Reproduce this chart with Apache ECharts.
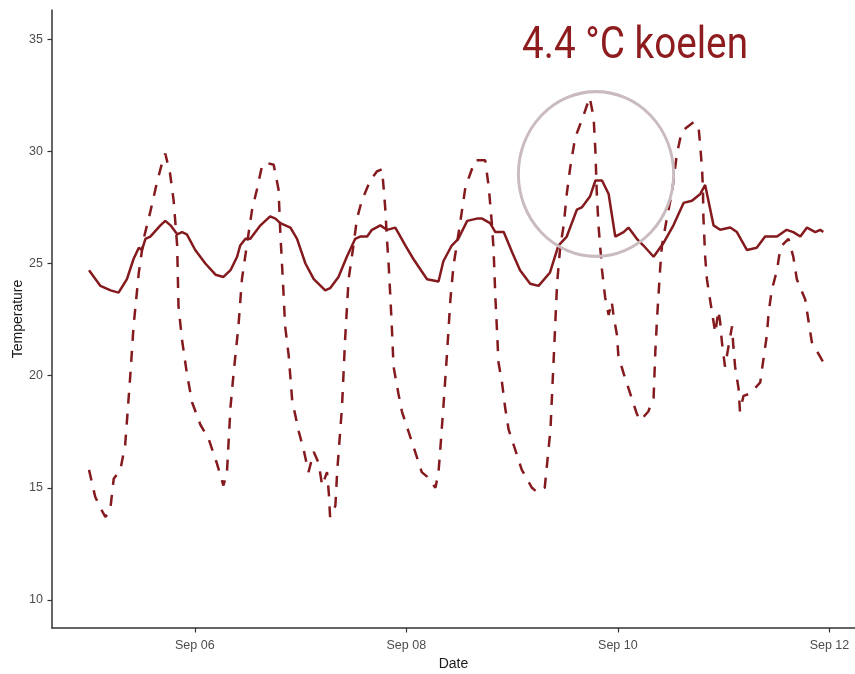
<!DOCTYPE html>
<html>
<head>
<meta charset="utf-8">
<title>Temperature</title>
<script src="https://cdn.jsdelivr.net/npm/echarts@6/dist/echarts.min.js"></script>
<style>
  html, body { margin: 0; padding: 0; background: #ffffff; }
  #chart { width: 855px; height: 674px; }
</style>
</head>
<body>
<div id="chart"></div>
<script>
// Hours since Sep 05 00:00 and indoor temperature (solid line)
const indoorHours = [
  0, 2.6, 4.9, 6.7, 8.6, 10.1, 11.3, 12.0, 12.8, 13.9,
  16.2, 17.3, 18.5, 20.0, 21.1, 22.2, 24.1, 26.4, 28.7, 30.5,
  32.1, 33.6, 34.3, 35.5, 36.6, 38.9, 41.1, 42.3, 43.4, 45.7,
  47.2, 49.1, 51.0, 53.6, 54.7, 56.6, 58.5, 60.4, 61.5, 63.1,
  64.2, 66.1, 67.6, 69.5, 71.8, 73.6, 76.7, 79.3, 80.4, 82.3,
  83.8, 85.8, 88.0, 89.2, 91.0, 92.2, 94.1, 96.0, 97.8, 100.1,
  102.0, 104.6, 106.5, 108.4, 110.7, 111.8, 113.7, 114.9, 116.4, 117.9,
  119.4, 121.3, 122.4, 124.3, 125.8, 128.1, 130.3, 132.6, 134.9, 136.8,
  138.7, 139.8, 141.7, 143.2, 145.5, 147.0, 149.3, 151.5, 153.4, 156.1,
  158.3, 159.8, 161.4, 162.9, 164.8, 165.9, 166.6
];
const indoorTemp = [
  24.7, 24.0, 23.8, 23.7, 24.3, 25.2, 25.7, 25.6, 26.1, 26.2,
  26.7, 26.9, 26.7, 26.3, 26.4, 26.3, 25.6, 25.0, 24.5, 24.4,
  24.7, 25.3, 25.8, 26.1, 26.1, 26.7, 27.1, 27.0, 26.8, 26.6,
  26.1, 25.0, 24.3, 23.8, 23.9, 24.4, 25.3, 26.1, 26.2, 26.2,
  26.5, 26.7, 26.5, 26.6, 25.8, 25.2, 24.3, 24.2, 25.1, 25.8,
  26.1, 26.9, 27.0, 27.0, 26.8, 26.4, 26.4, 25.5, 24.7, 24.1,
  24.0, 24.6, 25.8, 26.2, 27.4, 27.5, 28.0, 28.7, 28.7, 28.1,
  26.2, 26.4, 26.6, 26.1, 25.8, 25.3, 25.9, 26.7, 27.7, 27.8,
  28.1, 28.5, 26.7, 26.5, 26.6, 26.4, 25.6, 25.7, 26.2, 26.2,
  26.5, 26.4, 26.2, 26.6, 26.4, 26.5, 26.4
];

// Hours since Sep 05 00:00 and outdoor temperature (dashed line)
const outdoorHours = [
  0, 1.4, 2.6, 3.7, 4.8, 5.6, 7.1, 8.2, 9.4, 10.1,
  11.3, 12.4, 13.9, 15.4, 16.6, 17.3, 18.4, 19.2, 20.0, 20.3,
  21.1, 22.2, 23.4, 25.3, 27.1, 29.0, 30.5, 31.3, 32.1, 32.8,
  33.9, 34.7, 35.8, 37.0, 38.1, 39.2, 40.0, 41.9, 43.0, 43.4,
  44.1, 44.5, 45.3, 46.1, 47.6, 48.7, 49.8, 51.0, 52.1, 52.9,
  54.0, 54.4, 54.7, 55.9, 56.3, 57.4, 58.1, 58.9, 60.0, 60.8,
  61.9, 63.8, 65.3, 66.5, 67.2, 67.6, 68.0, 68.4, 68.7, 69.1,
  70.2, 71.0, 72.5, 74.0, 75.5, 76.7, 78.6, 79.3, 79.7, 80.4,
  81.2, 82.0, 82.7, 84.2, 85.4, 86.5, 87.6, 89.9, 90.7, 91.4,
  91.8, 92.2, 92.6, 92.9, 93.7, 94.4, 95.2, 96.7, 98.2, 100.5,
  101.7, 103.4, 104.7, 105.4, 106.2, 106.9, 107.7, 108.4, 109.2, 110.3,
  112.2, 113.6, 114.5, 114.9, 115.2, 115.6, 116.0, 116.4, 117.1, 117.9,
  118.6, 119.0, 119.8, 120.1, 121.3, 122.8, 124.3, 125.1, 126.9, 128.1,
  128.5, 128.9, 129.6, 130.0, 131.1, 132.3, 133.4, 134.5, 137.2, 138.3,
  138.7, 139.1, 139.3, 139.4, 139.6, 139.8, 140.2, 140.9, 141.7, 142.1,
  142.8, 143.2, 143.6, 144.3, 145.9, 146.2, 146.6, 147.4, 147.7, 148.5,
  150.0, 152.3, 153.0, 153.8, 154.2, 154.9, 156.1, 156.8, 157.2, 158.7,
  159.8, 160.6, 162.5, 163.2, 164.0, 166.3, 166.6
];
const outdoorTemp = [
  15.8, 14.6, 14.1, 13.7, 14.0, 15.4, 15.8, 16.9, 20.1, 22.2,
  24.6, 26.1, 27.3, 28.6, 29.5, 29.9, 29.0, 27.8, 25.8, 23.1,
  21.6, 20.1, 18.8, 17.8, 17.2, 16.1, 15.1, 15.7, 18.6, 20.1,
  22.2, 24.3, 25.8, 27.4, 28.3, 29.3, 29.5, 29.4, 28.3, 26.4,
  23.8, 22.2, 20.9, 18.9, 17.5, 16.7, 15.7, 16.6, 16.1, 15.1,
  15.7, 14.8, 13.7, 14.2, 15.7, 18.6, 21.6, 24.3, 25.8, 27.0,
  27.8, 28.7, 29.1, 29.2, 27.5, 26.1, 24.9, 23.4, 22.2, 20.4,
  19.2, 18.4, 17.5, 16.6, 15.7, 15.5, 15.0, 15.7, 16.7, 18.6,
  20.9, 23.4, 24.9, 26.8, 28.4, 29.0, 29.6, 29.6, 28.4, 26.8,
  25.6, 23.5, 21.9, 20.6, 19.7, 18.6, 17.6, 16.7, 15.8, 15.0,
  14.8, 15.0, 17.6, 20.6, 24.1, 25.7, 26.7, 28.1, 29.3, 30.6,
  31.6, 32.4, 31.5, 30.0, 28.2, 26.7, 25.7, 24.7, 23.5, 22.7,
  23.3, 22.7, 21.8, 20.9, 20.1, 19.2, 18.3, 18.0, 18.4, 19.0,
  21.1, 22.6, 24.8, 25.8, 27.0, 28.2, 29.9, 30.9, 31.3, 31.1,
  30.2, 29.2, 28.3, 27.1, 26.2, 25.3, 24.3, 23.4, 22.4, 21.9,
  22.9, 22.4, 21.5, 20.4, 22.2, 21.3, 20.4, 19.4, 18.4, 19.1,
  19.2, 19.7, 20.7, 21.8, 22.8, 23.8, 24.7, 25.6, 25.8, 26.1,
  25.3, 24.3, 23.4, 22.5, 21.5, 20.7, 20.6
];

// Axis ticks
const xTickHours = [24, 72, 120, 168];
const xTickLabels = ['Sep 06', 'Sep 08', 'Sep 10', 'Sep 12'];
const yTicks = [10, 15, 20, 25, 30, 35];

const lineColor = '#841a1e';
const axisColor = '#333333';
const labelFont = 'Liberation Sans, Arial, sans-serif';
const zip = (xs, ys) => xs.map((x, i) => [x, ys[i]]);

// Headline set in a condensed style: squeeze Roboto horizontally to the block width
const headline = '4.4 °C koelen';
const headlineFont = 'normal 45px Roboto, sans-serif';
const headlineWidth = 226;
const measureCtx = document.createElement('canvas').getContext('2d');
measureCtx.font = headlineFont;
const headlineScale = headlineWidth / measureCtx.measureText(headline).width;

const chart = echarts.init(document.getElementById('chart'), null, { renderer: 'canvas' });

chart.setOption({
  animation: false,
  backgroundColor: '#ffffff',
  grid: { left: 52, right: 0, top: 10, bottom: 46, containLabel: false, outerBoundsMode: 'none' },
  xAxis: {
    type: 'value',
    min: -8.4,
    max: 173.8,
    name: 'Date',
    nameLocation: 'middle',
    nameGap: 29,
    nameMoveOverlap: false,
    nameTextStyle: { color: '#1a1a1a', fontSize: 14, fontFamily: labelFont },
    axisLine: { show: true, onZero: false, lineStyle: { color: axisColor, width: 1.5 } },
    axisTick: { show: true, customValues: xTickHours, length: 4.5, lineStyle: { color: axisColor, width: 1.2 } },
    axisLabel: {
      customValues: xTickHours,
      formatter: v => xTickLabels[xTickHours.indexOf(v)] || '',
      color: '#4d4d4d', fontSize: 12.5, margin: 11,
      fontFamily: labelFont
    },
    splitLine: { show: false }
  },
  yAxis: {
    type: 'value',
    min: 8.75,
    max: 36.3,
    name: 'Temperature',
    nameLocation: 'middle',
    nameGap: 27,
    nameMoveOverlap: false,
    nameTextStyle: { color: '#1a1a1a', fontSize: 14, fontFamily: labelFont },
    axisLine: { show: true, onZero: false, lineStyle: { color: axisColor, width: 1.5 } },
    axisTick: { show: true, customValues: yTicks, length: 4.5, lineStyle: { color: axisColor, width: 1.2 } },
    axisLabel: {
      customValues: yTicks,
      color: '#4d4d4d', fontSize: 12.5, margin: 9,
      fontFamily: labelFont
    },
    splitLine: { show: false }
  },
  series: [
    {
      name: 'Binnen',
      type: 'line',
      data: zip(indoorHours, indoorTemp),
      showSymbol: false,
      lineStyle: { color: lineColor, width: 2.5 },
      z: 3
    },
    {
      name: 'Buiten',
      type: 'line',
      data: zip(outdoorHours, outdoorTemp),
      showSymbol: false,
      lineStyle: { color: lineColor, width: 2.5, type: [11, 10] },
      z: 2
    }
  ],
  graphic: [
    {
      type: 'circle',
      x: 596,
      y: 174,
      scaleX: 0.97,
      scaleY: 1.03,
      shape: { cx: 0, cy: 0, r: 80 },
      style: { fill: 'none', stroke: '#c9bbbf', lineWidth: 3 },
      z: 100
    },
    {
      type: 'text',
      x: 522,
      y: 47,
      scaleX: headlineScale,
      style: {
        text: headline,
        fill: '#8e1c1f',
        font: headlineFont,
        textAlign: 'left',
        textVerticalAlign: 'middle'
      },
      z: 100
    }
  ]
});
</script>
</body>
</html>
